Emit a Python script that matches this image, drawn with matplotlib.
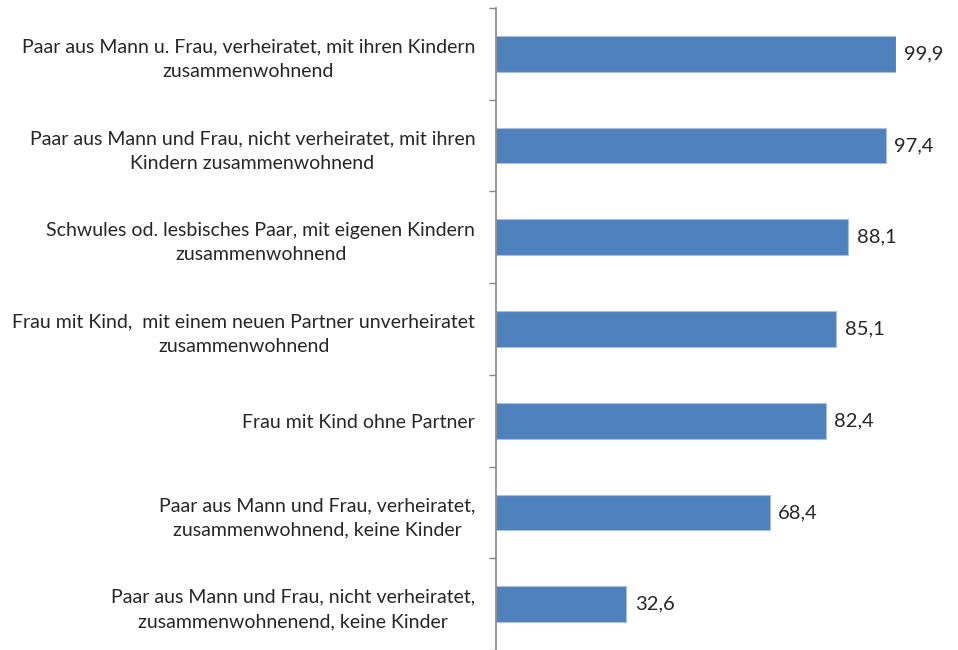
import matplotlib
matplotlib.use("Agg")
import matplotlib.pyplot as plt
import numpy as np

categories = [
    "Paar aus Mann u. Frau, verheiratet, mit ihren Kindern\nzusammenwohnend",
    "Paar aus Mann und Frau, nicht verheiratet, mit ihren\nKindern zusammenwohnend",
    "Schwules od. lesbisches Paar, mit eigenen Kindern\nzusammenwohnend",
    "Frau mit Kind,  mit einem neuen Partner unverheiratet\nzusammenwohnend",
    "Frau mit Kind ohne Partner",
    "Paar aus Mann und Frau, verheiratet,\nzusammenwohnend, keine Kinder",
    "Paar aus Mann und Frau, nicht verheiratet,\nzusammenwohnenend, keine Kinder",
]
values = [99.9, 97.4, 88.1, 85.1, 82.4, 68.4, 32.6]
value_labels = ["99,9", "97,4", "88,1", "85,1", "82,4", "68,4", "32,6"]

plt.rcParams['font.family'] = ['Lato', 'DejaVu Sans']

fig = plt.figure(figsize=(9.58, 6.5), dpi=100)
ax = fig.add_axes([496/958, 0.0, 400/958, 1 - 8/650])

n = len(categories)
y = np.arange(n)[::-1]
ax.barh(y, values, height=0.39, color="#4F81BD", edgecolor="#A7C0DE", linewidth=0.8)
ax.set_ylim(-0.5, n - 0.5)
ax.set_xlim(0, 100)

for yi, v, lab in zip(y, values, value_labels):
    ax.text(v + 2.1, yi, lab, va="center", ha="left", fontsize=14.5, color="#262626")

ax.set_yticks(y)
ax.set_yticklabels(categories, fontsize=14, color="#262626", linespacing=1.55)
for t in ax.get_yticklabels():
    t.set_multialignment("center")
ax.tick_params(axis="y", which="major", length=0, pad=15)
ax.set_yticks(np.arange(n + 1) - 0.5, minor=True)
ax.tick_params(axis="y", which="minor", length=5, width=1, color="#868686")
ax.set_xticks([])
for s in ["top", "right", "bottom"]:
    ax.spines[s].set_visible(False)
ax.spines["left"].set_color("#868686")
ax.spines["left"].set_linewidth(1.2)

fig.savefig("out.png", dpi=100)
